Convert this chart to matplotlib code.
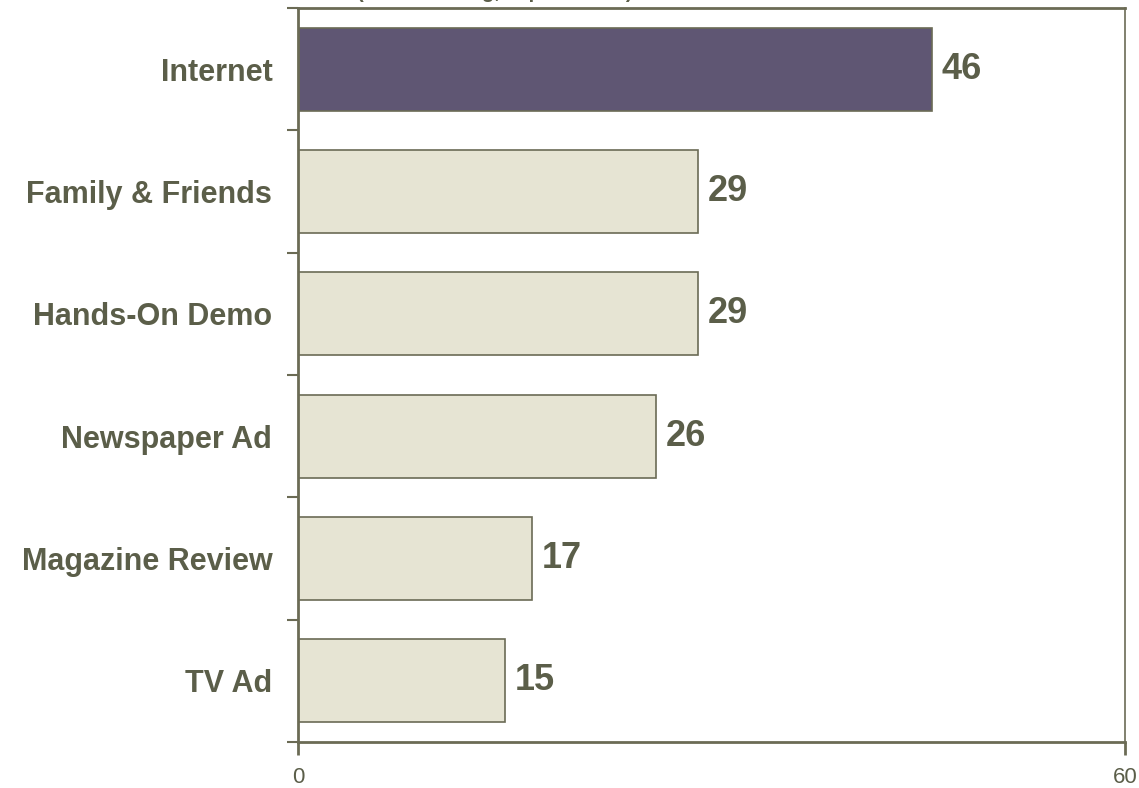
import matplotlib.pyplot as plt

# survey sources, top to bottom
sources = ["Internet", "Family & Friends", "Hands-On Demo",
           "Newspaper Ad", "Magazine Review", "TV Ad"]
percents = [46, 29, 29, 26, 17, 15]
x_ticks = [0, 60]

plt.rcParams["font.family"] = ["Liberation Sans", "DejaVu Sans"]

olive = "#5b5e49"
edge = "#6b6b55"
bar_colors = ["#5f5673"] + ["#e6e4d3"] * (len(sources) - 1)

fig = plt.figure(figsize=(11.39, 7.88), dpi=100)
ax = fig.add_axes([0.2616, 0.0584, 0.7261, 0.9314])

pos = list(range(len(sources)))
ax.barh(pos, percents, height=0.68, color=bar_colors,
        edgecolor=edge, linewidth=1.2)

# value labels just past the bar ends
for p, v in zip(pos, percents):
    ax.text(v + 0.7, p, str(v), va="center", ha="left",
            fontsize=26, fontweight="bold", color=olive)

ax.set_xlim(0, 60)
ax.set_ylim(len(sources) - 0.5, -0.5)

ax.set_xticks(x_ticks)
ax.set_xticklabels([str(t) for t in x_ticks], fontsize=16, color=olive)
ax.tick_params(axis="x", length=9, width=2, color=edge, pad=9)

# category names at centres, tick marks at the boundaries
ax.set_yticks(pos)
ax.set_yticklabels(sources, fontsize=22, fontweight="bold", color=olive)
ax.tick_params(axis="y", which="major", length=0, pad=18.5)
ax.set_yticks([p - 0.5 for p in pos] + [len(sources) - 0.5], minor=True)
ax.tick_params(axis="y", which="minor", length=8, width=1.5, color=edge)

for side in ["left", "bottom", "top"]:
    ax.spines[side].set_color(edge)
    ax.spines[side].set_linewidth(2)
ax.spines["right"].set_color(edge)
ax.spines["right"].set_linewidth(1.2)

# title line sits mostly above the top edge
fig.text(0.4346, 1.003, "(% Mentioning, Top Sources)", ha="center",
         va="baseline", fontsize=14.5, fontweight="bold", color=olive)

fig.savefig("out.png", dpi=100)
